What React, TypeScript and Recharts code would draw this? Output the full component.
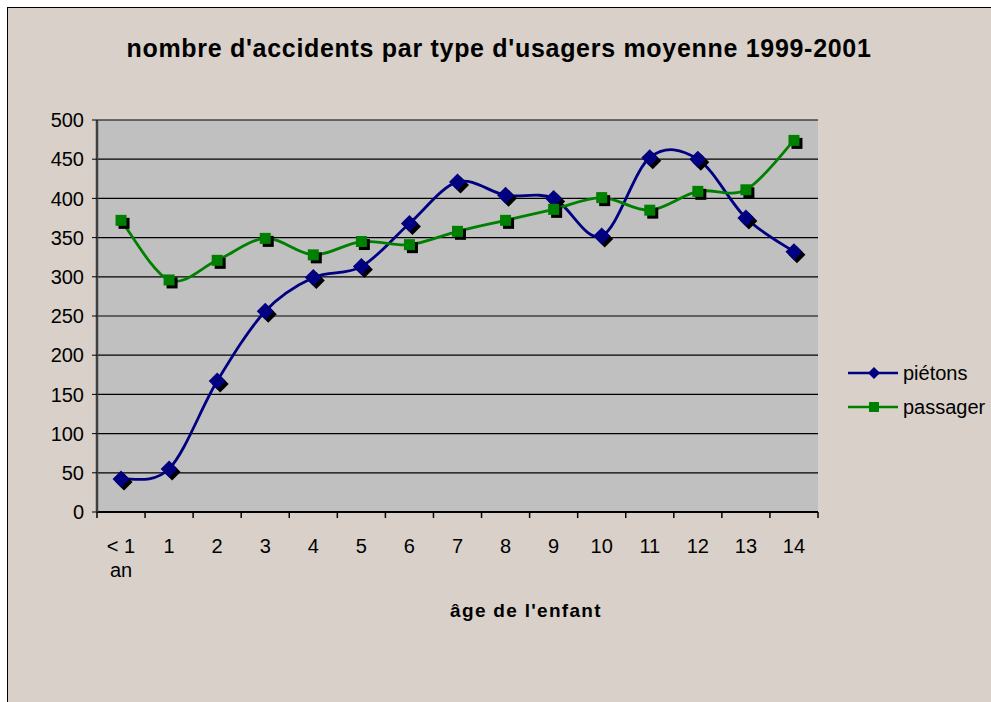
import React from "react";
import {
  CartesianGrid,
  Customized,
  Legend,
  Line,
  LineChart,
  XAxis,
  YAxis
} from "recharts";

const ages = ["< 1 an", "1", "2", "3", "4", "5", "6", "7", "8", "9", "10", "11", "12", "13", "14"];
const pietons = [42, 55, 167, 256, 299, 313, 368, 421, 404, 400, 352, 452, 450, 375, 332];
const passager = [372, 296, 321, 349, 328, 345, 341, 358, 372, 386, 401, 385, 409, 411, 474];
const yTicks = [0, 50, 100, 150, 200, 250, 300, 350, 400, 450, 500];

const FONT = "'Liberation Sans', Arial, sans-serif";
const NAVY = "#000080";
const GREEN = "#008000";
const W = 983;
const H = 694;
const PLOT_W = 721;
const STEP = PLOT_W / ages.length;

// excel style smoothed line (catmull-rom like bezier)
function excelSmooth(context: any) {
  let pts: number[][] = [];
  return {
    areaStart() {},
    areaEnd() {},
    lineStart() { pts = []; },
    point(x: number, y: number) { pts.push([+x, +y]); },
    lineEnd() {
      const n = pts.length;
      if (!n) return;
      context.moveTo(pts[0][0], pts[0][1]);
      for (let i = 0; i < n - 1; i++) {
        const p0 = pts[Math.max(i - 1, 0)];
        const p1 = pts[i];
        const p2 = pts[i + 1];
        const p3 = pts[Math.min(i + 2, n - 1)];
        context.bezierCurveTo(
          p1[0] + (p2[0] - p0[0]) / 6, p1[1] + (p2[1] - p0[1]) / 6,
          p2[0] - (p3[0] - p1[0]) / 6, p2[1] - (p3[1] - p1[1]) / 6,
          p2[0], p2[1]
        );
      }
    }
  };
}

const diamondPts = (cx: number, cy: number, r: number) =>
  `${cx},${cy - r} ${cx + r},${cy} ${cx},${cy + r} ${cx - r},${cy}`;

function DiamondDot(props: any) {
  const { cx, cy, index } = props;
  if (cx == null || cy == null) return <g key={index} />;
  return (
    <g key={index}>
      <polygon points={diamondPts(cx + 3, cy + 3, 8.5)} fill="#000" />
      <polygon points={diamondPts(cx, cy, 8.5)} fill={NAVY} />
    </g>
  );
}

function SquareDot(props: any) {
  const { cx, cy, index } = props;
  if (cx == null || cy == null) return <g key={index} />;
  return (
    <g key={index}>
      <rect x={cx - 5.5 + 3} y={cy - 5.5 + 3} width={11} height={11} fill="#000" />
      <rect x={cx - 5.5} y={cy - 5.5} width={11} height={11} fill={GREEN} />
    </g>
  );
}

function AgeTick(props: any) {
  const { x, y, payload, index } = props;
  const words = String(payload.value).split(" ");
  const first = words.length > 2 ? words.slice(0, 2).join(" ") : String(payload.value);
  const second = words.length > 2 ? words.slice(2).join(" ") : null;
  return (
    <g>
      <line x1={x - STEP / 2} x2={x - STEP / 2} y1={y} y2={y + 6} stroke="#000" strokeWidth={1.5} />
      {index === ages.length - 1 && (
        <line x1={x + STEP / 2} x2={x + STEP / 2} y1={y} y2={y + 6} stroke="#000" strokeWidth={1.5} />
      )}
      <text x={x} y={y + 41} textAnchor="middle" fontSize={20} fontFamily={FONT} fill="#000">
        {first}
      </text>
      {second && (
        <text x={x} y={y + 65} textAnchor="middle" fontSize={20} fontFamily={FONT} fill="#000">
          {second}
        </text>
      )}
    </g>
  );
}

function LegendContent() {
  const rows = [
    { name: "piétons", color: NAVY, shape: "diamond" },
    { name: "passager", color: GREEN, shape: "square" }
  ];
  return (
    <div style={{ fontFamily: FONT, fontSize: 20, color: "#000" }}>
      {rows.map((r) => (
        <div key={r.name} style={{ display: "flex", alignItems: "center", height: 34, whiteSpace: "nowrap" }}>
          <svg width={52} height={20} style={{ marginRight: 3 }}>
            <line x1={0} x2={50} y1={10} y2={10} stroke={r.color} strokeWidth={2.5} />
            {r.shape === "diamond"
              ? <polygon points={diamondPts(26, 10, 6)} fill={r.color} />
              : <rect x={21} y={5} width={10} height={10} fill={r.color} />}
          </svg>
          <span>{r.name}</span>
        </div>
      ))}
    </div>
  );
}

const chartData = ages.map((a, i) => ({ age: a, pietons: pietons[i], passager: passager[i] }));

export default function App() {
  return (
    <div
      style={{
        position: "absolute",
        left: 7,
        top: 7,
        width: W + 1,
        height: H + 1,
        background: "#d8d0c9",
        borderTop: "1px solid #000",
        borderLeft: "1px solid #000",
        overflow: "hidden"
      }}
    >
      <LineChart width={W} height={H} data={chartData} margin={{ top: 112, right: 173, left: 0, bottom: 80 }}>
        <CartesianGrid vertical={false} stroke="#000" fill="#c0c0c0" strokeWidth={1.2} />
        <XAxis
          dataKey="age"
          scale="band"
          interval={0}
          height={110}
          tickSize={0}
          tickMargin={0}
          axisLine={{ stroke: "#000", strokeWidth: 2 }}
          tick={<AgeTick />}
          tickLine={false}
        />
        <XAxis xAxisId="top" dataKey="age" orientation="top" height={0} tick={false} tickLine={false}
          axisLine={{ stroke: "#808080", strokeWidth: 2 }} />
        <YAxis
          domain={[0, 500]}
          ticks={yTicks}
          interval={0}
          width={89}
          tickSize={5}
          tickMargin={8}
          axisLine={{ stroke: "#404040", strokeWidth: 2.5 }}
          tickLine={{ stroke: "#000" }}
          tick={{ fill: "#000", fontSize: 20, fontFamily: FONT }}
        />
        <YAxis yAxisId="right" orientation="right" width={0} domain={[0, 500]} tick={false} tickLine={false}
          axisLine={{ stroke: "#808080", strokeWidth: 2 }} />
        <Legend
          layout="vertical"
          align="center"
          verticalAlign="middle"
          wrapperStyle={{ left: 840, top: 348, width: "auto" }}
          content={<LegendContent />}
        />
        <Line
          name="piétons"
          dataKey="pietons"
          type={excelSmooth as any}
          stroke={NAVY}
          strokeWidth={2.8}
          dot={DiamondDot}
          activeDot={false}
          isAnimationActive={false}
        />
        <Line
          name="passager"
          dataKey="passager"
          type={excelSmooth as any}
          stroke={GREEN}
          strokeWidth={2.8}
          dot={SquareDot}
          activeDot={false}
          isAnimationActive={false}
        />
        <Customized
          component={() => (
            <g fontFamily={FONT} fontWeight="bold" fill="#000">
              <text x={491} y={49} textAnchor="middle" fontSize={25} letterSpacing={0.7}>
                nombre d'accidents par type d'usagers moyenne 1999-2001
              </text>
              <text x={518} y={609} textAnchor="middle" fontSize={19} letterSpacing={1.3}>
                âge de l'enfant
              </text>
            </g>
          )}
        />
      </LineChart>
    </div>
  );
}
